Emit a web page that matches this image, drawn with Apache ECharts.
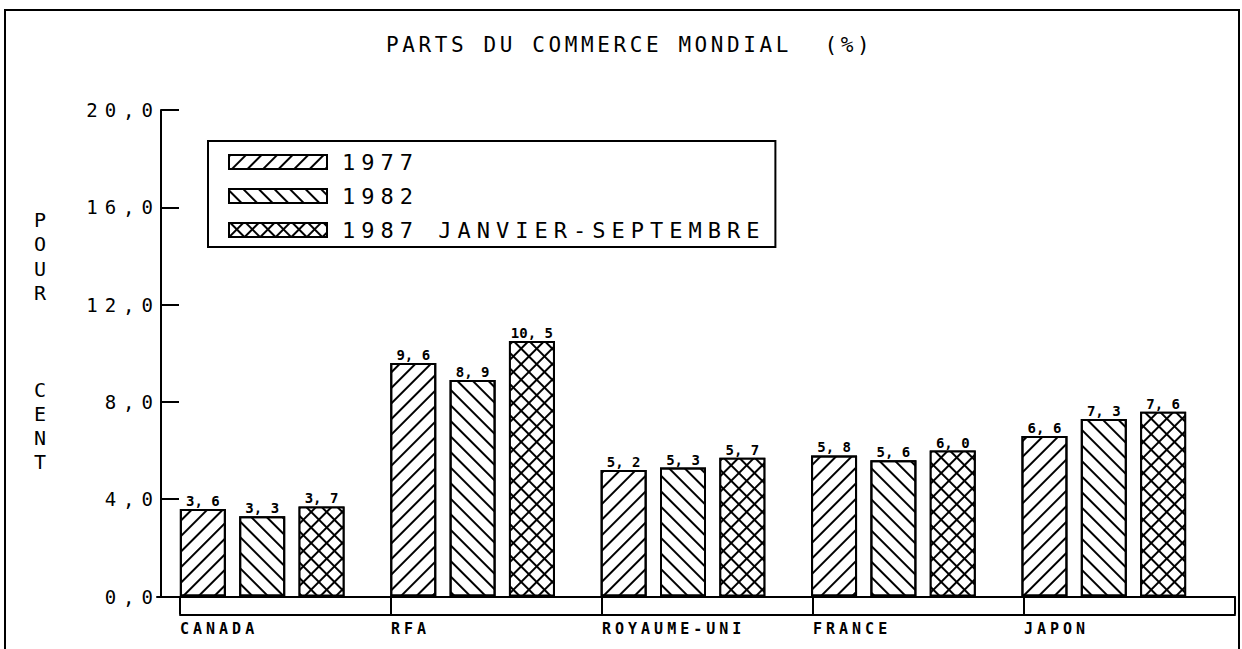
<!DOCTYPE html>
<html>
<head>
<meta charset="utf-8">
<script src="https://cdn.jsdelivr.net/npm/echarts@6/dist/echarts.min.js"></script>
<style>
  html, body { margin: 0; padding: 0; background: #fff; }
  #frame { position: absolute; left: 4px; top: 9px; width: 1232px; height: 660px; border: 2px solid #000; }
  #chart { position: absolute; left: 0; top: 0; width: 1242px; height: 649px; }
  #chart text { white-space: pre; }
  #chart text[style*="19px"] { letter-spacing: 7px; }
  #chart text[style*="21px"] { letter-spacing: 3.6px; }
  #chart text[style*="22px"] { letter-spacing: 6px; }
  #chart text[style*="15px"] { letter-spacing: 4px; }
</style>
</head>
<body>
<div id="frame"></div>
<div id="chart"></div>
<script>
const titleText = 'PARTS DU COMMERCE MONDIAL  (%)';
const yAxisName = 'POUR CENT';
const categories = ['CANADA', 'RFA', 'ROYAUME-UNI', 'FRANCE', 'JAPON'];
const seriesNames = ['1977', '1982', '1987 JANVIER-SEPTEMBRE'];
const v1977 = [3.6, 9.6, 5.2, 5.8, 6.6];
const v1982 = [3.3, 8.9, 5.3, 5.6, 7.3];
const v1987 = [3.7, 10.5, 5.7, 6.0, 7.6];
const yTicks = [0, 4, 8, 12, 16, 20];

const MONO = 'DejaVu Sans Mono';
const chart = echarts.init(document.getElementById('chart'), null, { renderer: 'svg' });

// vertical stacked axis title: POUR / CENT
const stackedName = yAxisName.split(' ').map(w => w.split('').join('\n')).join('\n\n\n\n');

const hatchRight = { symbol: 'rect', symbolSize: 1, dashArrayX: [1, 0], dashArrayY: [2, 9], rotation: -Math.PI / 4, color: '#000' };
const hatchLeft = { symbol: 'rect', symbolSize: 1, dashArrayX: [1, 0], dashArrayY: [2, 9], rotation: Math.PI / 4, color: '#000' };
const crossHatch = { symbol: 'rect', symbolSize: 1, dashArrayX: [9, 2], dashArrayY: [9, 2], rotation: Math.PI / 4, color: '#fff' };

const labelFmt = p => p.value.toFixed(1).replace('.', ', ');
const barLabel = { show: true, position: 'top', distance: 1, color: '#000', fontFamily: MONO, fontWeight: 'bold', fontSize: 14, formatter: labelFmt };

function barSeries(name, data, fill, decal) {
  return {
    name, type: 'bar', data, xAxisIndex: 0, yAxisIndex: 0,
    barWidth: 46, barGap: '29%',
    itemStyle: { color: fill, borderColor: '#000', borderWidth: 2, decal },
    label: barLabel,
    emphasis: { disabled: true },
    animation: false
  };
}

chart.setOption({
  animation: false,
  backgroundColor: 'transparent',
  title: [
    {
      text: titleText, left: 381, top: 29,
      textStyle: { fontFamily: MONO, fontSize: 21, fontWeight: 'normal', color: '#000' }
    },
    {
      text: stackedName, left: 29, top: 203,
      textStyle: { fontFamily: MONO, fontSize: 20, fontWeight: 'normal', color: '#000', lineHeight: 24.2 }
    }
  ],
  legend: {
    orient: 'vertical', left: 208, top: 141,
    padding: [10, 142, 6, 20], itemGap: 12,
    itemWidth: 98, itemHeight: 14,
    backgroundColor: '#fff', borderColor: '#000', borderWidth: 2,
    icon: 'rect',
    textStyle: { fontFamily: MONO, fontSize: 22, color: '#000', padding: [0, 0, 0, 10] },
    data: seriesNames,
    selectedMode: false
  },
  grid: [
    { left: 157, width: 1052, top: 110, height: 486.5, containLabel: false },
    { left: 180, right: 7, top: 596.5, height: 18, containLabel: false }
  ],
  xAxis: [
    {
      type: 'category', gridIndex: 0, data: categories,
      axisLine: { lineStyle: { color: '#000', width: 2 } },
      axisTick: { show: false }, axisLabel: { show: false }, splitLine: { show: false }
    },
    {
      type: 'category', gridIndex: 1, data: categories.concat(['']), boundaryGap: false, position: 'bottom',
      axisLine: { lineStyle: { color: '#000', width: 2 } },
      axisTick: { show: true, inside: true, length: 18, interval: 0, lineStyle: { color: '#000', width: 2 } },
      axisLabel: { show: true, interval: 0, align: 'left', margin: 7, color: '#000', fontFamily: MONO, fontWeight: 'bold', fontSize: 15 },
      splitLine: { show: false }
    },
    {
      type: 'category', gridIndex: 1, data: categories.concat(['']), boundaryGap: false, position: 'top',
      axisLine: { lineStyle: { color: '#000', width: 2 } },
      axisTick: { show: false }, axisLabel: { show: false }, splitLine: { show: false }
    }
  ],
  yAxis: [
    {
      type: 'value', gridIndex: 0, offset: -4,
      min: yTicks[0], max: yTicks[yTicks.length - 1], interval: yTicks[1] - yTicks[0],
      axisLine: { show: true, lineStyle: { color: '#000', width: 2 } },
      axisTick: { show: true, inside: true, length: 18, lineStyle: { color: '#000', width: 2 } },
      axisLabel: { color: '#000', fontFamily: MONO, fontSize: 19, margin: 1, formatter: v => v.toFixed(1).replace('.', ',') },
      splitLine: { show: false }
    },
    { type: 'value', gridIndex: 1, show: false, min: 0, max: 1 }
  ],
  series: [
    barSeries(seriesNames[0], v1977, '#fff', hatchRight),
    barSeries(seriesNames[1], v1982, '#fff', hatchLeft),
    barSeries(seriesNames[2], v1987, '#000', crossHatch)
  ]
});
</script>
</body>
</html>
